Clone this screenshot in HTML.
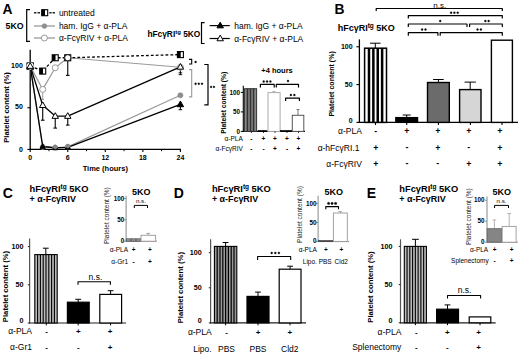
<!DOCTYPE html>
<html><head><meta charset="utf-8"><style>
html,body{margin:0;padding:0;background:#fff;}
svg{display:block;}
text{font-family:"Liberation Sans", sans-serif;}
</style></head><body>
<svg width="520" height="354" viewBox="0 0 520 354" font-family='"Liberation Sans", sans-serif'>
<rect width="520" height="354" fill="#fff"/>
<text x="2.40" y="13.70" font-size="13.8" font-weight="bold" text-anchor="start" fill="#000">A</text>
<text x="5.50" y="29.20" font-size="8.8" font-weight="bold" text-anchor="start" fill="#000">5KO</text>
<path d="M30.00,9.60 H26.70 V41.30 H30.00" fill="none" stroke="#000" stroke-width="1.2"/>
<line x1="34.00" y1="12.80" x2="36.40" y2="12.80" stroke="#000" stroke-width="1.3" stroke-linecap="butt"/>
<line x1="37.50" y1="12.80" x2="40.00" y2="12.80" stroke="#000" stroke-width="1.3" stroke-linecap="butt"/>
<line x1="49.30" y1="12.80" x2="51.60" y2="12.80" stroke="#000" stroke-width="1.3" stroke-linecap="butt"/>
<line x1="52.60" y1="12.80" x2="55.00" y2="12.80" stroke="#000" stroke-width="1.3" stroke-linecap="butt"/>
<rect x="41.70" y="9.70" width="6.00" height="6.00" fill="#fff" stroke="#000" stroke-width="1.1"/>
<rect x="41.70" y="9.70" width="3.30" height="6.00" fill="#000"/>
<text x="58.90" y="15.80" font-size="8.5" text-anchor="start" fill="#000">untreated</text>
<line x1="34.00" y1="26.00" x2="55.00" y2="26.00" stroke="#9a9a9a" stroke-width="1.3" stroke-linecap="butt"/>
<circle cx="44.40" cy="26.10" r="2.4" fill="#8e8e8e" stroke="#8e8e8e" stroke-width="0.6"/>
<text x="58.90" y="29.10" font-size="8.5" text-anchor="start" fill="#000">ham. IgG + α-PLA</text>
<line x1="34.00" y1="38.00" x2="55.00" y2="38.00" stroke="#9a9a9a" stroke-width="1.3" stroke-linecap="butt"/>
<circle cx="44.40" cy="38.00" r="3.0" fill="#fff" stroke="#9a9a9a" stroke-width="1.0"/>
<text x="58.90" y="41.10" font-size="8.5" text-anchor="start" fill="#000">α-FcγRIV + α-PLA</text>
<text x="147.4" y="36.8" font-size="8.35" font-weight="bold">hFcγRI<tspan font-size="6" dy="-2.6">tg</tspan><tspan dy="2.6"> 5KO</tspan></text>
<path d="M204.60,22.70 H201.50 V43.50 H204.60" fill="none" stroke="#000" stroke-width="1.2"/>
<line x1="209.60" y1="25.60" x2="229.80" y2="25.60" stroke="#000" stroke-width="1.2" stroke-linecap="butt"/>
<path d="M220.20,22.20 L223.44,27.87 L216.96,27.87 Z" fill="#000" stroke="#000" stroke-width="1.0" stroke-linejoin="miter"/>
<text x="234.20" y="29.00" font-size="8.5" text-anchor="start" fill="#000">ham. IgG + α-PLA</text>
<line x1="209.60" y1="38.50" x2="229.80" y2="38.50" stroke="#000" stroke-width="1.2" stroke-linecap="butt"/>
<path d="M220.20,35.10 L223.44,40.77 L216.96,40.77 Z" fill="#fff" stroke="#000" stroke-width="1.0" stroke-linejoin="miter"/>
<text x="234.20" y="41.60" font-size="8.5" text-anchor="start" fill="#000">α-FcγRIV + α-PLA</text>
<line x1="30.20" y1="49.70" x2="30.20" y2="150.00" stroke="#000" stroke-width="1.3" stroke-linecap="butt"/>
<line x1="29.60" y1="149.40" x2="181.00" y2="149.40" stroke="#000" stroke-width="1.3" stroke-linecap="butt"/>
<line x1="27.40" y1="66.10" x2="30.20" y2="66.10" stroke="#000" stroke-width="1.1" stroke-linecap="butt"/>
<text x="22.80" y="67.70" font-size="7" font-weight="bold" text-anchor="end" fill="#000">100</text>
<line x1="27.40" y1="107.75" x2="30.20" y2="107.75" stroke="#000" stroke-width="1.1" stroke-linecap="butt"/>
<text x="22.80" y="109.35" font-size="7" font-weight="bold" text-anchor="end" fill="#000">50</text>
<line x1="27.40" y1="149.40" x2="30.20" y2="149.40" stroke="#000" stroke-width="1.1" stroke-linecap="butt"/>
<text x="22.80" y="151.50" font-size="7" font-weight="bold" text-anchor="end" fill="#000">0</text>
<line x1="30.20" y1="149.40" x2="30.20" y2="152.00" stroke="#000" stroke-width="1.1" stroke-linecap="butt"/>
<text x="30.20" y="160.00" font-size="7" font-weight="bold" text-anchor="middle" fill="#000">0</text>
<line x1="67.75" y1="149.40" x2="67.75" y2="152.00" stroke="#000" stroke-width="1.1" stroke-linecap="butt"/>
<text x="67.75" y="160.00" font-size="7" font-weight="bold" text-anchor="middle" fill="#000">6</text>
<line x1="105.30" y1="149.40" x2="105.30" y2="152.00" stroke="#000" stroke-width="1.1" stroke-linecap="butt"/>
<text x="105.30" y="160.00" font-size="7" font-weight="bold" text-anchor="middle" fill="#000">12</text>
<line x1="142.85" y1="149.40" x2="142.85" y2="152.00" stroke="#000" stroke-width="1.1" stroke-linecap="butt"/>
<text x="142.85" y="160.00" font-size="7" font-weight="bold" text-anchor="middle" fill="#000">18</text>
<line x1="180.40" y1="149.40" x2="180.40" y2="152.00" stroke="#000" stroke-width="1.1" stroke-linecap="butt"/>
<text x="180.40" y="160.00" font-size="7" font-weight="bold" text-anchor="middle" fill="#000">24</text>
<line x1="48.98" y1="149.40" x2="48.98" y2="151.20" stroke="#000" stroke-width="1.0" stroke-linecap="butt"/>
<line x1="86.53" y1="149.40" x2="86.53" y2="151.20" stroke="#000" stroke-width="1.0" stroke-linecap="butt"/>
<line x1="124.08" y1="149.40" x2="124.08" y2="151.20" stroke="#000" stroke-width="1.0" stroke-linecap="butt"/>
<line x1="161.62" y1="149.40" x2="161.62" y2="151.20" stroke="#000" stroke-width="1.0" stroke-linecap="butt"/>
<text x="105.30" y="170.80" font-size="7.5" font-weight="bold" text-anchor="middle" fill="#000">Time (hours)</text>
<text x="8.70" y="107.50" font-size="7.6" font-weight="bold" text-anchor="middle" fill="#000" transform="rotate(-90 8.7 107.5)">Platelet content (%)</text>
<line x1="42.72" y1="89.42" x2="42.72" y2="99.42" stroke="#9a9a9a" stroke-width="1.0" stroke-linecap="butt"/>
<line x1="42.72" y1="89.42" x2="42.72" y2="89.42" stroke="#9a9a9a" stroke-width="1.0" stroke-linecap="butt"/>
<line x1="41.42" y1="99.42" x2="44.02" y2="99.42" stroke="#9a9a9a" stroke-width="1.0" stroke-linecap="butt"/>
<line x1="67.75" y1="57.77" x2="67.75" y2="75.40" stroke="#000" stroke-width="1.1" stroke-linecap="butt"/>
<line x1="65.95" y1="75.40" x2="69.55" y2="75.40" stroke="#000" stroke-width="1.1" stroke-linecap="butt"/>
<line x1="42.72" y1="105.25" x2="42.72" y2="120.20" stroke="#000" stroke-width="1.1" stroke-linecap="butt"/>
<line x1="40.92" y1="120.20" x2="44.52" y2="120.20" stroke="#000" stroke-width="1.1" stroke-linecap="butt"/>
<line x1="55.23" y1="116.08" x2="55.23" y2="128.10" stroke="#000" stroke-width="1.1" stroke-linecap="butt"/>
<line x1="53.43" y1="128.10" x2="57.03" y2="128.10" stroke="#000" stroke-width="1.1" stroke-linecap="butt"/>
<line x1="67.75" y1="116.08" x2="67.75" y2="125.10" stroke="#000" stroke-width="1.1" stroke-linecap="butt"/>
<line x1="65.95" y1="125.10" x2="69.55" y2="125.10" stroke="#000" stroke-width="1.1" stroke-linecap="butt"/>
<line x1="180.40" y1="66.93" x2="180.40" y2="74.70" stroke="#000" stroke-width="1.0" stroke-linecap="butt"/>
<line x1="178.60" y1="72.80" x2="182.20" y2="72.80" stroke="#000" stroke-width="0.9" stroke-linecap="butt"/>
<line x1="178.60" y1="74.70" x2="182.20" y2="74.70" stroke="#000" stroke-width="0.9" stroke-linecap="butt"/>
<line x1="180.40" y1="104.42" x2="180.40" y2="109.70" stroke="#000" stroke-width="1.0" stroke-linecap="butt"/>
<line x1="178.60" y1="109.70" x2="182.20" y2="109.70" stroke="#000" stroke-width="1.0" stroke-linecap="butt"/>
<polyline points="30.20,66.10 42.72,146.90 55.23,147.73 67.75,146.90 180.40,95.25" fill="none" stroke="#9a9a9a" stroke-width="1.2" stroke-linejoin="round"/>
<polyline points="30.20,66.10 42.72,89.42 55.23,67.77 67.75,57.77 180.40,67.27" fill="none" stroke="#9a9a9a" stroke-width="1.2" stroke-linejoin="round"/>
<polyline points="30.20,66.10 42.72,146.48 55.23,147.73 67.75,147.32 180.40,104.42" fill="none" stroke="#000" stroke-width="1.3" stroke-linejoin="round"/>
<polyline points="30.20,66.10 42.72,105.25 55.23,116.08 67.75,116.08 180.40,66.93" fill="none" stroke="#000" stroke-width="1.3" stroke-linejoin="round"/>
<polyline points="30.20,66.10 42.72,71.10 55.23,57.77 67.75,57.77 180.40,54.60" fill="none" stroke="#000" stroke-width="1.3" stroke-dasharray="2.8,2.1" stroke-linejoin="round"/>
<circle cx="30.20" cy="66.10" r="2.6" fill="#8e8e8e" stroke="#8e8e8e" stroke-width="0.6"/>
<circle cx="42.72" cy="146.90" r="2.6" fill="#8e8e8e" stroke="#8e8e8e" stroke-width="0.6"/>
<circle cx="55.23" cy="147.73" r="2.6" fill="#8e8e8e" stroke="#8e8e8e" stroke-width="0.6"/>
<circle cx="67.75" cy="146.90" r="2.6" fill="#8e8e8e" stroke="#8e8e8e" stroke-width="0.6"/>
<circle cx="180.40" cy="95.25" r="2.6" fill="#8e8e8e" stroke="#8e8e8e" stroke-width="0.6"/>
<circle cx="30.20" cy="66.10" r="3.0" fill="#fff" stroke="#9a9a9a" stroke-width="1.0"/>
<circle cx="42.72" cy="89.42" r="3.0" fill="#fff" stroke="#9a9a9a" stroke-width="1.0"/>
<circle cx="55.23" cy="67.77" r="3.0" fill="#fff" stroke="#9a9a9a" stroke-width="1.0"/>
<circle cx="67.75" cy="57.77" r="3.0" fill="#fff" stroke="#9a9a9a" stroke-width="1.0"/>
<circle cx="180.40" cy="67.27" r="3.0" fill="#fff" stroke="#9a9a9a" stroke-width="1.0"/>
<path d="M30.20,62.70 L33.44,68.37 L26.96,68.37 Z" fill="#000" stroke="#000" stroke-width="1.0" stroke-linejoin="miter"/>
<path d="M42.72,143.65 L45.42,148.37 L40.02,148.37 Z" fill="#000" stroke="#000" stroke-width="1.0" stroke-linejoin="miter"/>
<path d="M55.23,144.90 L57.93,149.62 L52.53,149.62 Z" fill="#000" stroke="#000" stroke-width="1.0" stroke-linejoin="miter"/>
<path d="M67.75,144.48 L70.45,149.21 L65.05,149.21 Z" fill="#000" stroke="#000" stroke-width="1.0" stroke-linejoin="miter"/>
<path d="M180.40,101.02 L183.64,106.69 L177.16,106.69 Z" fill="#000" stroke="#000" stroke-width="1.0" stroke-linejoin="miter"/>
<circle cx="55.23" cy="146.93" r="2.0" fill="#8a8a8a" stroke="#8a8a8a" stroke-width="0.4"/>
<circle cx="67.75" cy="146.10" r="2.0" fill="#8a8a8a" stroke="#8a8a8a" stroke-width="0.4"/>
<path d="M30.20,62.70 L33.44,68.37 L26.96,68.37 Z" fill="#fff" stroke="#000" stroke-width="1.0" stroke-linejoin="miter"/>
<path d="M42.72,101.85 L45.96,107.52 L39.48,107.52 Z" fill="#fff" stroke="#000" stroke-width="1.0" stroke-linejoin="miter"/>
<path d="M55.23,112.68 L58.47,118.35 L51.99,118.35 Z" fill="#fff" stroke="#000" stroke-width="1.0" stroke-linejoin="miter"/>
<path d="M67.75,112.68 L70.99,118.35 L64.51,118.35 Z" fill="#fff" stroke="#000" stroke-width="1.0" stroke-linejoin="miter"/>
<path d="M180.40,63.53 L183.64,69.20 L177.16,69.20 Z" fill="#fff" stroke="#000" stroke-width="1.0" stroke-linejoin="miter"/>
<rect x="27.20" y="63.10" width="6.00" height="6.00" fill="#fff" stroke="#000" stroke-width="1.1"/>
<rect x="27.20" y="63.10" width="3.30" height="6.00" fill="#000"/>
<rect x="39.72" y="68.10" width="6.00" height="6.00" fill="#fff" stroke="#000" stroke-width="1.1"/>
<rect x="39.72" y="68.10" width="3.30" height="6.00" fill="#000"/>
<rect x="52.23" y="54.77" width="6.00" height="6.00" fill="#fff" stroke="#000" stroke-width="1.1"/>
<rect x="52.23" y="54.77" width="3.30" height="6.00" fill="#000"/>
<rect x="64.75" y="54.77" width="6.00" height="6.00" fill="#fff" stroke="#000" stroke-width="1.1"/>
<rect x="64.75" y="54.77" width="3.30" height="6.00" fill="#000"/>
<rect x="177.40" y="51.60" width="6.00" height="6.00" fill="#fff" stroke="#000" stroke-width="1.1"/>
<rect x="177.40" y="51.60" width="3.30" height="6.00" fill="#000"/>
<circle cx="67.75" cy="57.77" r="3.1" fill="#fff" stroke="#222" stroke-width="1.0"/>
<rect x="27.20" y="63.10" width="6.00" height="6.00" fill="#fff" stroke="#000" stroke-width="1.1"/>
<rect x="27.20" y="63.10" width="3.30" height="6.00" fill="#000"/>
<circle cx="30.20" cy="66.10" r="3.3" fill="#fff" stroke="#fff" stroke-width="0.5"/>
<path d="M30.20,62.70 L33.44,68.37 L26.96,68.37 Z" fill="#fff" stroke="#000" stroke-width="1.0" stroke-linejoin="miter"/>
<path d="M189.00,59.40 H191.70 V64.00 H189.00" fill="none" stroke="#000" stroke-width="1.1"/>
<circle cx="195.60" cy="62.00" r="0.95" fill="#000" stroke="#000" stroke-width="0.3"/>
<path d="M189.00,69.60 H191.70 V96.90 H189.00" fill="none" stroke="#9a9a9a" stroke-width="1.1"/>
<circle cx="195.60" cy="83.80" r="0.95" fill="#000" stroke="#000" stroke-width="0.3"/>
<circle cx="198.80" cy="83.80" r="0.95" fill="#000" stroke="#000" stroke-width="0.3"/>
<circle cx="202.00" cy="83.80" r="0.95" fill="#000" stroke="#000" stroke-width="0.3"/>
<path d="M204.30,64.50 H208.00 V104.80 H204.30" fill="none" stroke="#000" stroke-width="1.2"/>
<circle cx="211.05" cy="86.90" r="0.95" fill="#000" stroke="#000" stroke-width="0.3"/>
<circle cx="213.95" cy="86.90" r="0.95" fill="#000" stroke="#000" stroke-width="0.3"/>
<text x="277.00" y="73.30" font-size="7.5" font-weight="bold" text-anchor="middle" fill="#000">+4 hours</text>
<line x1="243.30" y1="85.80" x2="243.30" y2="131.90" stroke="#000" stroke-width="1.1" stroke-linecap="butt"/>
<line x1="242.80" y1="131.40" x2="305.00" y2="131.40" stroke="#000" stroke-width="1.1" stroke-linecap="butt"/>
<line x1="240.80" y1="92.40" x2="243.30" y2="92.40" stroke="#000" stroke-width="1.0" stroke-linecap="butt"/>
<text x="240.00" y="94.60" font-size="6.3" font-weight="bold" text-anchor="end" fill="#000">100</text>
<line x1="240.80" y1="111.90" x2="243.30" y2="111.90" stroke="#000" stroke-width="1.0" stroke-linecap="butt"/>
<text x="240.00" y="114.10" font-size="6.3" font-weight="bold" text-anchor="end" fill="#000">50</text>
<line x1="240.80" y1="131.40" x2="243.30" y2="131.40" stroke="#000" stroke-width="1.0" stroke-linecap="butt"/>
<text x="240.00" y="133.60" font-size="6.3" font-weight="bold" text-anchor="end" fill="#000">0</text>
<text x="226.20" y="102.80" font-size="6.7" font-weight="bold" text-anchor="middle" fill="#000" transform="rotate(-90 226.2 102.8)">Platelet content (%)</text>
<rect x="244.40" y="88.70" width="12.20" height="42.70" fill="#888" stroke="#333" stroke-width="1.0"/>
<line x1="247.45" y1="88.70" x2="247.45" y2="131.40" stroke="#333" stroke-width="1.6" stroke-linecap="butt"/>
<line x1="250.50" y1="88.70" x2="250.50" y2="131.40" stroke="#333" stroke-width="1.6" stroke-linecap="butt"/>
<line x1="253.55" y1="88.70" x2="253.55" y2="131.40" stroke="#333" stroke-width="1.6" stroke-linecap="butt"/>
<rect x="258.20" y="130.60" width="8.40" height="0.80" fill="#000" stroke="#000" stroke-width="0.6"/>
<rect x="268.00" y="92.60" width="12.10" height="38.80" fill="#fff" stroke="#aaa" stroke-width="1.0"/>
<line x1="274.00" y1="92.60" x2="274.00" y2="91.60" stroke="#aaa" stroke-width="1.0" stroke-linecap="butt"/>
<line x1="272.50" y1="91.60" x2="275.50" y2="91.60" stroke="#aaa" stroke-width="1.0" stroke-linecap="butt"/>
<rect x="280.50" y="130.60" width="11.20" height="0.80" fill="#000" stroke="#000" stroke-width="0.6"/>
<rect x="292.30" y="115.30" width="11.50" height="16.10" fill="#fff" stroke="#555" stroke-width="1.0"/>
<line x1="298.00" y1="109.50" x2="298.00" y2="115.30" stroke="#777" stroke-width="1.0" stroke-linecap="butt"/>
<line x1="296.50" y1="109.50" x2="299.50" y2="109.50" stroke="#777" stroke-width="1.0" stroke-linecap="butt"/>
<path d="M260.40,87.40 V84.40 H274.20 V87.40" fill="none" stroke="#000" stroke-width="1.2" stroke-linejoin="round"/>
<path d="M276.30,87.40 V84.40 H298.50 V87.40" fill="none" stroke="#000" stroke-width="1.2" stroke-linejoin="round"/>
<path d="M285.60,101.10 V98.10 H299.40 V101.10" fill="none" stroke="#000" stroke-width="1.2" stroke-linejoin="round"/>
<circle cx="263.70" cy="81.50" r="1.0" fill="#000" stroke="#000" stroke-width="0.3"/>
<circle cx="267.05" cy="81.50" r="1.0" fill="#000" stroke="#000" stroke-width="0.3"/>
<circle cx="270.40" cy="81.50" r="1.0" fill="#000" stroke="#000" stroke-width="0.3"/>
<circle cx="288.00" cy="81.00" r="1.0" fill="#000" stroke="#000" stroke-width="0.3"/>
<circle cx="290.85" cy="95.00" r="1.0" fill="#000" stroke="#000" stroke-width="0.3"/>
<circle cx="294.35" cy="95.00" r="1.0" fill="#000" stroke="#000" stroke-width="0.3"/>
<text x="242.80" y="140.80" font-size="6.5" text-anchor="end" fill="#000">α-PLA</text>
<text x="242.80" y="151.30" font-size="6.5" text-anchor="end" fill="#000">α-FcγRIV</text>
<line x1="251.40" y1="131.40" x2="251.40" y2="133.00" stroke="#000" stroke-width="0.8" stroke-linecap="butt"/>
<line x1="263.50" y1="131.40" x2="263.50" y2="133.00" stroke="#000" stroke-width="0.8" stroke-linecap="butt"/>
<line x1="275.00" y1="131.40" x2="275.00" y2="133.00" stroke="#000" stroke-width="0.8" stroke-linecap="butt"/>
<line x1="287.00" y1="131.40" x2="287.00" y2="133.00" stroke="#000" stroke-width="0.8" stroke-linecap="butt"/>
<line x1="298.50" y1="131.40" x2="298.50" y2="133.00" stroke="#000" stroke-width="0.8" stroke-linecap="butt"/>
<text x="251.40" y="140.80" font-size="6.5" font-weight="bold" text-anchor="middle" fill="#000">-</text>
<text x="263.50" y="140.80" font-size="6.5" font-weight="bold" text-anchor="middle" fill="#000">+</text>
<text x="275.00" y="140.80" font-size="6.5" font-weight="bold" text-anchor="middle" fill="#000">+</text>
<text x="287.00" y="140.80" font-size="6.5" font-weight="bold" text-anchor="middle" fill="#000">+</text>
<text x="298.50" y="140.80" font-size="6.5" font-weight="bold" text-anchor="middle" fill="#000">+</text>
<text x="251.40" y="151.30" font-size="6.5" font-weight="bold" text-anchor="middle" fill="#000">-</text>
<text x="263.50" y="151.30" font-size="6.5" font-weight="bold" text-anchor="middle" fill="#000">-</text>
<text x="275.00" y="151.30" font-size="6.5" font-weight="bold" text-anchor="middle" fill="#000">+</text>
<text x="287.00" y="151.30" font-size="6.5" font-weight="bold" text-anchor="middle" fill="#000">-</text>
<text x="298.50" y="151.30" font-size="6.5" font-weight="bold" text-anchor="middle" fill="#000">+</text>
<text x="334.40" y="13.70" font-size="13.8" font-weight="bold" text-anchor="start" fill="#000">B</text>
<text x="337.7" y="30.8" font-size="9" font-weight="bold">hFcγRI<tspan font-size="6.5" dy="-2.9">tg</tspan><tspan dy="2.9"> 5KO</tspan></text>
<line x1="359.40" y1="39.40" x2="359.40" y2="123.00" stroke="#000" stroke-width="1.3" stroke-linecap="butt"/>
<line x1="358.80" y1="122.40" x2="518.00" y2="122.40" stroke="#000" stroke-width="1.3" stroke-linecap="butt"/>
<line x1="356.40" y1="46.80" x2="359.40" y2="46.80" stroke="#000" stroke-width="1.1" stroke-linecap="butt"/>
<text x="352.60" y="48.90" font-size="7.0" font-weight="bold" text-anchor="end" fill="#000">100</text>
<line x1="356.40" y1="84.60" x2="359.40" y2="84.60" stroke="#000" stroke-width="1.1" stroke-linecap="butt"/>
<text x="352.60" y="86.70" font-size="7.0" font-weight="bold" text-anchor="end" fill="#000">50</text>
<line x1="356.40" y1="122.40" x2="359.40" y2="122.40" stroke="#000" stroke-width="1.1" stroke-linecap="butt"/>
<text x="352.60" y="123.30" font-size="7.0" font-weight="bold" text-anchor="end" fill="#000">0</text>
<text x="334.00" y="83.90" font-size="7.05" font-weight="bold" text-anchor="middle" fill="#000" transform="rotate(-90 334.0 83.9)">Platelet content (%)</text>
<line x1="375.50" y1="122.40" x2="375.50" y2="125.00" stroke="#000" stroke-width="1.1" stroke-linecap="butt"/>
<line x1="406.70" y1="122.40" x2="406.70" y2="125.00" stroke="#000" stroke-width="1.1" stroke-linecap="butt"/>
<line x1="438.40" y1="122.40" x2="438.40" y2="125.00" stroke="#000" stroke-width="1.1" stroke-linecap="butt"/>
<line x1="470.40" y1="122.40" x2="470.40" y2="125.00" stroke="#000" stroke-width="1.1" stroke-linecap="butt"/>
<line x1="502.00" y1="122.40" x2="502.00" y2="125.00" stroke="#000" stroke-width="1.1" stroke-linecap="butt"/>
<line x1="375.30" y1="43.20" x2="375.30" y2="48.20" stroke="#000" stroke-width="1.0" stroke-linecap="butt"/>
<line x1="370.00" y1="43.20" x2="380.60" y2="43.20" stroke="#000" stroke-width="1.0" stroke-linecap="butt"/>
<rect x="364.60" y="48.20" width="21.90" height="74.20" fill="#fff" stroke="#000" stroke-width="1.5"/>
<line x1="368.98" y1="48.20" x2="368.98" y2="122.40" stroke="#000" stroke-width="2.5" stroke-linecap="butt"/>
<line x1="373.36" y1="48.20" x2="373.36" y2="122.40" stroke="#000" stroke-width="2.5" stroke-linecap="butt"/>
<line x1="377.74" y1="48.20" x2="377.74" y2="122.40" stroke="#000" stroke-width="2.5" stroke-linecap="butt"/>
<line x1="382.12" y1="48.20" x2="382.12" y2="122.40" stroke="#000" stroke-width="2.5" stroke-linecap="butt"/>
<line x1="406.70" y1="115.00" x2="406.70" y2="117.60" stroke="#000" stroke-width="1.0" stroke-linecap="butt"/>
<line x1="402.70" y1="115.00" x2="410.70" y2="115.00" stroke="#000" stroke-width="1.0" stroke-linecap="butt"/>
<rect x="395.80" y="117.60" width="21.80" height="4.80" fill="#000" stroke="#000" stroke-width="1.3"/>
<line x1="438.40" y1="79.50" x2="438.40" y2="82.50" stroke="#000" stroke-width="1.0" stroke-linecap="butt"/>
<line x1="433.10" y1="79.50" x2="443.70" y2="79.50" stroke="#000" stroke-width="1.0" stroke-linecap="butt"/>
<rect x="427.50" y="82.50" width="21.80" height="39.90" fill="#6b6b6b" stroke="#000" stroke-width="1.4"/>
<line x1="470.20" y1="82.10" x2="470.20" y2="89.60" stroke="#000" stroke-width="1.0" stroke-linecap="butt"/>
<line x1="464.55" y1="82.10" x2="475.85" y2="82.10" stroke="#000" stroke-width="1.0" stroke-linecap="butt"/>
<rect x="459.60" y="89.60" width="21.40" height="32.80" fill="#d6d6d6" stroke="#000" stroke-width="1.4"/>
<rect x="491.40" y="40.20" width="21.00" height="82.20" fill="#fff" stroke="#000" stroke-width="1.4"/>
<path d="M376.20,10.90 V8.50 H502.30 V10.90" fill="none" stroke="#000" stroke-width="1.2" stroke-linejoin="round"/>
<text x="439.80" y="7.60" font-size="8" text-anchor="middle" fill="#000">n.s.</text>
<path d="M408.30,18.60 V15.60 H502.30 V18.60" fill="none" stroke="#000" stroke-width="1.2" stroke-linejoin="round"/>
<circle cx="451.10" cy="12.70" r="1.0" fill="#000" stroke="#000" stroke-width="0.3"/>
<circle cx="454.40" cy="12.70" r="1.0" fill="#000" stroke="#000" stroke-width="0.3"/>
<circle cx="457.70" cy="12.70" r="1.0" fill="#000" stroke="#000" stroke-width="0.3"/>
<path d="M408.30,27.00 V24.00 H467.00 V27.00" fill="none" stroke="#000" stroke-width="1.2" stroke-linejoin="round"/>
<path d="M469.60,27.00 V24.00 H502.30 V27.00" fill="none" stroke="#000" stroke-width="1.2" stroke-linejoin="round"/>
<circle cx="440.20" cy="21.10" r="1.0" fill="#000" stroke="#000" stroke-width="0.3"/>
<circle cx="485.35" cy="21.10" r="1.0" fill="#000" stroke="#000" stroke-width="0.3"/>
<circle cx="488.65" cy="21.10" r="1.0" fill="#000" stroke="#000" stroke-width="0.3"/>
<path d="M408.30,35.70 V32.70 H437.90 V35.70" fill="none" stroke="#000" stroke-width="1.2" stroke-linejoin="round"/>
<path d="M440.20,35.70 V32.70 H502.30 V35.70" fill="none" stroke="#000" stroke-width="1.2" stroke-linejoin="round"/>
<circle cx="422.10" cy="29.60" r="1.0" fill="#000" stroke="#000" stroke-width="0.3"/>
<circle cx="425.50" cy="29.60" r="1.0" fill="#000" stroke="#000" stroke-width="0.3"/>
<circle cx="477.50" cy="29.60" r="1.0" fill="#000" stroke="#000" stroke-width="0.3"/>
<circle cx="480.90" cy="29.60" r="1.0" fill="#000" stroke="#000" stroke-width="0.3"/>
<text x="361.90" y="134.40" font-size="8.5" text-anchor="end" fill="#000">α-PLA</text>
<text x="359.40" y="150.90" font-size="8.5" text-anchor="end" fill="#000">α-hFcγRI.1</text>
<text x="361.90" y="167.00" font-size="8.5" text-anchor="end" fill="#000">α-FcγRIV</text>
<text x="375.80" y="133.80" font-size="8.8" font-weight="bold" text-anchor="middle" fill="#000">-</text>
<text x="406.90" y="134.40" font-size="8.8" font-weight="bold" text-anchor="middle" fill="#000">+</text>
<text x="437.80" y="134.40" font-size="8.8" font-weight="bold" text-anchor="middle" fill="#000">+</text>
<text x="468.80" y="134.40" font-size="8.8" font-weight="bold" text-anchor="middle" fill="#000">+</text>
<text x="499.90" y="134.40" font-size="8.8" font-weight="bold" text-anchor="middle" fill="#000">+</text>
<text x="375.80" y="150.90" font-size="8.8" font-weight="bold" text-anchor="middle" fill="#000">+</text>
<text x="406.90" y="150.30" font-size="8.8" font-weight="bold" text-anchor="middle" fill="#000">-</text>
<text x="437.80" y="150.90" font-size="8.8" font-weight="bold" text-anchor="middle" fill="#000">+</text>
<text x="468.80" y="150.30" font-size="8.8" font-weight="bold" text-anchor="middle" fill="#000">-</text>
<text x="499.90" y="150.90" font-size="8.8" font-weight="bold" text-anchor="middle" fill="#000">+</text>
<text x="375.80" y="167.00" font-size="8.8" font-weight="bold" text-anchor="middle" fill="#000">+</text>
<text x="406.90" y="166.40" font-size="8.8" font-weight="bold" text-anchor="middle" fill="#000">-</text>
<text x="437.80" y="166.40" font-size="8.8" font-weight="bold" text-anchor="middle" fill="#000">-</text>
<text x="468.80" y="167.00" font-size="8.8" font-weight="bold" text-anchor="middle" fill="#000">+</text>
<text x="499.90" y="167.00" font-size="8.8" font-weight="bold" text-anchor="middle" fill="#000">+</text>
<text x="2.80" y="198.00" font-size="14" font-weight="bold" text-anchor="start" fill="#000">C</text>
<text x="29.6" y="191.5" font-size="9.3" font-weight="bold">hFcγRI<tspan font-size="6.5" dy="-2.9">tg</tspan><tspan dy="2.9"> 5KO</tspan></text>
<text x="29.60" y="202.00" font-size="8.928" font-weight="bold" text-anchor="start" fill="#000">+ α-FcγRIV</text>
<line x1="29.60" y1="238.60" x2="29.60" y2="323.50" stroke="#555" stroke-width="1.2" stroke-linecap="butt"/>
<line x1="29.10" y1="323.00" x2="126.00" y2="323.00" stroke="#222" stroke-width="1.2" stroke-linecap="butt"/>
<line x1="27.80" y1="246.60" x2="29.60" y2="246.60" stroke="#222" stroke-width="1.0" stroke-linecap="butt"/>
<text x="23.50" y="248.90" font-size="7.2" font-weight="bold" text-anchor="end" fill="#000">100</text>
<line x1="27.80" y1="284.80" x2="29.60" y2="284.80" stroke="#222" stroke-width="1.0" stroke-linecap="butt"/>
<text x="23.50" y="287.10" font-size="7.2" font-weight="bold" text-anchor="end" fill="#000">50</text>
<line x1="27.80" y1="323.00" x2="29.60" y2="323.00" stroke="#222" stroke-width="1.0" stroke-linecap="butt"/>
<text x="23.50" y="322.80" font-size="7.2" font-weight="bold" text-anchor="end" fill="#000">0</text>
<text x="8.30" y="286.50" font-size="7.7" font-weight="bold" text-anchor="middle" fill="#000" transform="rotate(-90 8.3 286.5)">Platelet content (%)</text>
<line x1="46.30" y1="323.00" x2="46.30" y2="325.40" stroke="#000" stroke-width="1.0" stroke-linecap="butt"/>
<line x1="78.20" y1="323.00" x2="78.20" y2="325.40" stroke="#000" stroke-width="1.0" stroke-linecap="butt"/>
<line x1="110.60" y1="323.00" x2="110.60" y2="325.40" stroke="#000" stroke-width="1.0" stroke-linecap="butt"/>
<line x1="45.80" y1="248.20" x2="45.80" y2="254.60" stroke="#000" stroke-width="1.0" stroke-linecap="butt"/>
<line x1="42.90" y1="248.20" x2="48.70" y2="248.20" stroke="#000" stroke-width="1.0" stroke-linecap="butt"/>
<rect x="34.80" y="254.60" width="22.40" height="68.40" fill="#bbb" stroke="#000" stroke-width="1.1"/>
<line x1="37.60" y1="254.60" x2="37.60" y2="323.00" stroke="#000" stroke-width="1.1" stroke-linecap="butt"/>
<line x1="40.40" y1="254.60" x2="40.40" y2="323.00" stroke="#000" stroke-width="1.1" stroke-linecap="butt"/>
<line x1="43.20" y1="254.60" x2="43.20" y2="323.00" stroke="#000" stroke-width="1.1" stroke-linecap="butt"/>
<line x1="46.00" y1="254.60" x2="46.00" y2="323.00" stroke="#000" stroke-width="1.1" stroke-linecap="butt"/>
<line x1="48.80" y1="254.60" x2="48.80" y2="323.00" stroke="#000" stroke-width="1.1" stroke-linecap="butt"/>
<line x1="51.60" y1="254.60" x2="51.60" y2="323.00" stroke="#000" stroke-width="1.1" stroke-linecap="butt"/>
<line x1="54.40" y1="254.60" x2="54.40" y2="323.00" stroke="#000" stroke-width="1.1" stroke-linecap="butt"/>
<line x1="78.20" y1="299.30" x2="78.20" y2="302.20" stroke="#000" stroke-width="1.0" stroke-linecap="butt"/>
<line x1="75.30" y1="299.30" x2="81.10" y2="299.30" stroke="#000" stroke-width="1.0" stroke-linecap="butt"/>
<rect x="67.40" y="302.20" width="21.80" height="20.80" fill="#000" stroke="#000" stroke-width="1.2"/>
<line x1="110.60" y1="290.70" x2="110.60" y2="294.40" stroke="#000" stroke-width="1.0" stroke-linecap="butt"/>
<line x1="107.70" y1="290.70" x2="113.50" y2="290.70" stroke="#000" stroke-width="1.0" stroke-linecap="butt"/>
<rect x="99.80" y="294.40" width="21.80" height="28.60" fill="#fff" stroke="#000" stroke-width="1.2"/>
<path d="M78.00,284.80 V281.80 H110.40 V284.80" fill="none" stroke="#000" stroke-width="1.1" stroke-linejoin="round"/>
<text x="95.40" y="279.60" font-size="8.5" text-anchor="middle" fill="#000">n.s.</text>
<text x="32.00" y="334.30" font-size="8.5" text-anchor="end" fill="#000">α-PLA</text>
<text x="32.00" y="350.00" font-size="8.5" text-anchor="end" fill="#000">α-Gr1</text>
<text x="46.50" y="334.30" font-size="8" font-weight="bold" text-anchor="middle" fill="#000">-</text>
<text x="46.50" y="350.00" font-size="8" font-weight="bold" text-anchor="middle" fill="#000">-</text>
<text x="78.30" y="334.30" font-size="8" font-weight="bold" text-anchor="middle" fill="#000">+</text>
<text x="78.30" y="350.00" font-size="8" font-weight="bold" text-anchor="middle" fill="#000">-</text>
<text x="110.00" y="334.30" font-size="8" font-weight="bold" text-anchor="middle" fill="#000">+</text>
<text x="110.00" y="350.00" font-size="8" font-weight="bold" text-anchor="middle" fill="#000">+</text>
<text x="173.80" y="198.00" font-size="14" font-weight="bold" text-anchor="start" fill="#000">D</text>
<text x="211.9" y="191.5" font-size="9.3" font-weight="bold">hFcγRI<tspan font-size="6.5" dy="-2.9">tg</tspan><tspan dy="2.9"> 5KO</tspan></text>
<text x="211.90" y="202.00" font-size="8.928" font-weight="bold" text-anchor="start" fill="#000">+ α-FcγRIV</text>
<line x1="210.60" y1="239.30" x2="210.60" y2="323.40" stroke="#555" stroke-width="1.2" stroke-linecap="butt"/>
<line x1="210.10" y1="322.90" x2="306.00" y2="322.90" stroke="#222" stroke-width="1.2" stroke-linecap="butt"/>
<line x1="208.80" y1="252.70" x2="210.60" y2="252.70" stroke="#222" stroke-width="1.0" stroke-linecap="butt"/>
<text x="201.80" y="255.00" font-size="7.2" font-weight="bold" text-anchor="end" fill="#000">100</text>
<line x1="208.80" y1="287.80" x2="210.60" y2="287.80" stroke="#222" stroke-width="1.0" stroke-linecap="butt"/>
<text x="201.80" y="290.10" font-size="7.2" font-weight="bold" text-anchor="end" fill="#000">50</text>
<line x1="208.80" y1="322.90" x2="210.60" y2="322.90" stroke="#222" stroke-width="1.0" stroke-linecap="butt"/>
<text x="201.80" y="322.70" font-size="7.2" font-weight="bold" text-anchor="end" fill="#000">0</text>
<text x="183.00" y="287.70" font-size="7.7" font-weight="bold" text-anchor="middle" fill="#000" transform="rotate(-90 183.0 287.7)">Platelet content (%)</text>
<line x1="225.60" y1="322.90" x2="225.60" y2="325.30" stroke="#000" stroke-width="1.0" stroke-linecap="butt"/>
<line x1="258.00" y1="322.90" x2="258.00" y2="325.30" stroke="#000" stroke-width="1.0" stroke-linecap="butt"/>
<line x1="290.00" y1="322.90" x2="290.00" y2="325.30" stroke="#000" stroke-width="1.0" stroke-linecap="butt"/>
<line x1="225.60" y1="242.50" x2="225.60" y2="246.40" stroke="#000" stroke-width="1.0" stroke-linecap="butt"/>
<line x1="222.70" y1="242.50" x2="228.50" y2="242.50" stroke="#000" stroke-width="1.0" stroke-linecap="butt"/>
<rect x="214.40" y="246.40" width="22.40" height="76.50" fill="#999" stroke="#000" stroke-width="1.1"/>
<line x1="217.20" y1="246.40" x2="217.20" y2="322.90" stroke="#000" stroke-width="1.2" stroke-linecap="butt"/>
<line x1="220.00" y1="246.40" x2="220.00" y2="322.90" stroke="#000" stroke-width="1.2" stroke-linecap="butt"/>
<line x1="222.80" y1="246.40" x2="222.80" y2="322.90" stroke="#000" stroke-width="1.2" stroke-linecap="butt"/>
<line x1="225.60" y1="246.40" x2="225.60" y2="322.90" stroke="#000" stroke-width="1.2" stroke-linecap="butt"/>
<line x1="228.40" y1="246.40" x2="228.40" y2="322.90" stroke="#000" stroke-width="1.2" stroke-linecap="butt"/>
<line x1="231.20" y1="246.40" x2="231.20" y2="322.90" stroke="#000" stroke-width="1.2" stroke-linecap="butt"/>
<line x1="234.00" y1="246.40" x2="234.00" y2="322.90" stroke="#000" stroke-width="1.2" stroke-linecap="butt"/>
<line x1="258.00" y1="292.10" x2="258.00" y2="296.40" stroke="#000" stroke-width="1.0" stroke-linecap="butt"/>
<line x1="255.10" y1="292.10" x2="260.90" y2="292.10" stroke="#000" stroke-width="1.0" stroke-linecap="butt"/>
<rect x="247.00" y="296.40" width="22.00" height="26.50" fill="#000" stroke="#000" stroke-width="1.2"/>
<line x1="290.10" y1="266.20" x2="290.10" y2="269.20" stroke="#000" stroke-width="1.0" stroke-linecap="butt"/>
<line x1="287.20" y1="266.20" x2="293.00" y2="266.20" stroke="#000" stroke-width="1.0" stroke-linecap="butt"/>
<rect x="279.20" y="269.20" width="21.80" height="53.70" fill="#fff" stroke="#000" stroke-width="1.2"/>
<path d="M257.60,259.90 V256.50 H290.70 V259.90" fill="none" stroke="#000" stroke-width="1.1" stroke-linejoin="round"/>
<circle cx="271.70" cy="252.90" r="1.0" fill="#000" stroke="#000" stroke-width="0.3"/>
<circle cx="275.30" cy="252.90" r="1.0" fill="#000" stroke="#000" stroke-width="0.3"/>
<circle cx="278.90" cy="252.90" r="1.0" fill="#000" stroke="#000" stroke-width="0.3"/>
<text x="211.70" y="335.30" font-size="8.5" text-anchor="end" fill="#000">α-PLA</text>
<text x="211.70" y="352.00" font-size="8.5" text-anchor="end" fill="#000">Lipo.</text>
<text x="226.50" y="335.30" font-size="8" font-weight="bold" text-anchor="middle" fill="#000">-</text>
<text x="226.50" y="352.00" font-size="8.5" text-anchor="middle" fill="#000">PBS</text>
<text x="258.00" y="335.30" font-size="8" font-weight="bold" text-anchor="middle" fill="#000">+</text>
<text x="258.00" y="352.00" font-size="8.5" text-anchor="middle" fill="#000">PBS</text>
<text x="289.80" y="335.30" font-size="8" font-weight="bold" text-anchor="middle" fill="#000">+</text>
<text x="289.80" y="352.00" font-size="8.5" text-anchor="middle" fill="#000">Cld2</text>
<text x="366.80" y="198.00" font-size="14" font-weight="bold" text-anchor="start" fill="#000">E</text>
<text x="399.3" y="191.5" font-size="9.3" font-weight="bold">hFcγRI<tspan font-size="6.5" dy="-2.9">tg</tspan><tspan dy="2.9"> 5KO</tspan></text>
<text x="399.30" y="202.00" font-size="8.928" font-weight="bold" text-anchor="start" fill="#000">+ α-FcγRIV</text>
<line x1="400.50" y1="239.30" x2="400.50" y2="323.30" stroke="#555" stroke-width="1.2" stroke-linecap="butt"/>
<line x1="400.00" y1="322.80" x2="495.70" y2="322.80" stroke="#222" stroke-width="1.2" stroke-linecap="butt"/>
<line x1="398.70" y1="246.40" x2="400.50" y2="246.40" stroke="#222" stroke-width="1.0" stroke-linecap="butt"/>
<text x="392.60" y="248.70" font-size="7.2" font-weight="bold" text-anchor="end" fill="#000">100</text>
<line x1="398.70" y1="284.60" x2="400.50" y2="284.60" stroke="#222" stroke-width="1.0" stroke-linecap="butt"/>
<text x="392.60" y="286.90" font-size="7.2" font-weight="bold" text-anchor="end" fill="#000">50</text>
<line x1="398.70" y1="322.80" x2="400.50" y2="322.80" stroke="#222" stroke-width="1.0" stroke-linecap="butt"/>
<text x="392.60" y="322.60" font-size="7.2" font-weight="bold" text-anchor="end" fill="#000">0</text>
<text x="373.00" y="287.00" font-size="7.7" font-weight="bold" text-anchor="middle" fill="#000" transform="rotate(-90 373.0 287.0)">Platelet content (%)</text>
<line x1="415.40" y1="322.80" x2="415.40" y2="325.20" stroke="#000" stroke-width="1.0" stroke-linecap="butt"/>
<line x1="447.50" y1="322.80" x2="447.50" y2="325.20" stroke="#000" stroke-width="1.0" stroke-linecap="butt"/>
<line x1="480.00" y1="322.80" x2="480.00" y2="325.20" stroke="#000" stroke-width="1.0" stroke-linecap="butt"/>
<line x1="415.40" y1="239.30" x2="415.40" y2="246.40" stroke="#000" stroke-width="1.0" stroke-linecap="butt"/>
<line x1="412.00" y1="239.30" x2="418.80" y2="239.30" stroke="#000" stroke-width="1.0" stroke-linecap="butt"/>
<rect x="404.30" y="246.40" width="22.10" height="76.40" fill="#bbb" stroke="#000" stroke-width="1.1"/>
<line x1="407.06" y1="246.40" x2="407.06" y2="322.80" stroke="#000" stroke-width="1.1" stroke-linecap="butt"/>
<line x1="409.82" y1="246.40" x2="409.82" y2="322.80" stroke="#000" stroke-width="1.1" stroke-linecap="butt"/>
<line x1="412.59" y1="246.40" x2="412.59" y2="322.80" stroke="#000" stroke-width="1.1" stroke-linecap="butt"/>
<line x1="415.35" y1="246.40" x2="415.35" y2="322.80" stroke="#000" stroke-width="1.1" stroke-linecap="butt"/>
<line x1="418.11" y1="246.40" x2="418.11" y2="322.80" stroke="#000" stroke-width="1.1" stroke-linecap="butt"/>
<line x1="420.88" y1="246.40" x2="420.88" y2="322.80" stroke="#000" stroke-width="1.1" stroke-linecap="butt"/>
<line x1="423.64" y1="246.40" x2="423.64" y2="322.80" stroke="#000" stroke-width="1.1" stroke-linecap="butt"/>
<line x1="447.50" y1="304.90" x2="447.50" y2="309.20" stroke="#000" stroke-width="1.0" stroke-linecap="butt"/>
<line x1="444.60" y1="304.90" x2="450.40" y2="304.90" stroke="#000" stroke-width="1.0" stroke-linecap="butt"/>
<rect x="436.60" y="309.20" width="21.90" height="13.60" fill="#000" stroke="#000" stroke-width="1.2"/>
<rect x="469.20" y="316.90" width="21.60" height="5.90" fill="#fff" stroke="#000" stroke-width="1.2"/>
<path d="M447.50,298.60 V295.50 H480.60 V298.60" fill="none" stroke="#000" stroke-width="1.1" stroke-linejoin="round"/>
<text x="464.60" y="293.20" font-size="8.5" text-anchor="middle" fill="#000">n.s.</text>
<text x="401.30" y="334.70" font-size="8.5" text-anchor="end" fill="#000">α-PLA</text>
<text x="401.30" y="350.40" font-size="8.5" text-anchor="end" fill="#000">Splenectomy</text>
<text x="416.40" y="334.70" font-size="8" font-weight="bold" text-anchor="middle" fill="#000">-</text>
<text x="416.40" y="350.40" font-size="8" font-weight="bold" text-anchor="middle" fill="#000">-</text>
<text x="447.40" y="334.70" font-size="8" font-weight="bold" text-anchor="middle" fill="#000">+</text>
<text x="447.40" y="350.40" font-size="8" font-weight="bold" text-anchor="middle" fill="#000">-</text>
<text x="478.50" y="334.70" font-size="8" font-weight="bold" text-anchor="middle" fill="#000">+</text>
<text x="478.50" y="350.40" font-size="8" font-weight="bold" text-anchor="middle" fill="#000">+</text>
<line x1="126.10" y1="195.70" x2="126.10" y2="241.60" stroke="#888" stroke-width="1.0" stroke-linecap="butt"/>
<line x1="125.70" y1="241.20" x2="156.80" y2="241.20" stroke="#888" stroke-width="1.0" stroke-linecap="butt"/>
<line x1="124.10" y1="198.50" x2="126.10" y2="198.50" stroke="#888" stroke-width="0.9" stroke-linecap="butt"/>
<text x="124.30" y="200.70" font-size="6.3" font-weight="bold" text-anchor="end" fill="#000">100</text>
<line x1="124.10" y1="219.85" x2="126.10" y2="219.85" stroke="#888" stroke-width="0.9" stroke-linecap="butt"/>
<text x="124.30" y="222.05" font-size="6.3" font-weight="bold" text-anchor="end" fill="#000">50</text>
<line x1="124.10" y1="241.20" x2="126.10" y2="241.20" stroke="#888" stroke-width="0.9" stroke-linecap="butt"/>
<text x="124.30" y="242.60" font-size="6.3" font-weight="bold" text-anchor="end" fill="#000">0</text>
<text x="141.20" y="195.00" font-size="9" font-weight="bold" text-anchor="middle" fill="#000">5KO</text>
<text x="108.70" y="215.60" font-size="6.5" text-anchor="middle" fill="#222" transform="rotate(-90 108.7 215.6)">Platelet content (%)</text>
<rect x="126.30" y="238.80" width="14.50" height="2.40" fill="#999" stroke="#555" stroke-width="0.8"/>
<line x1="131.13" y1="238.80" x2="131.13" y2="241.20" stroke="#555" stroke-width="1.0" stroke-linecap="butt"/>
<line x1="135.97" y1="238.80" x2="135.97" y2="241.20" stroke="#555" stroke-width="1.0" stroke-linecap="butt"/>
<line x1="148.20" y1="233.40" x2="148.20" y2="235.30" stroke="#999" stroke-width="0.9" stroke-linecap="butt"/>
<line x1="146.40" y1="233.40" x2="150.00" y2="233.40" stroke="#999" stroke-width="0.9" stroke-linecap="butt"/>
<rect x="141.00" y="235.30" width="14.60" height="5.90" fill="#fff" stroke="#999" stroke-width="0.9"/>
<path d="M134.30,208.00 V205.40 H147.50 V208.00" fill="none" stroke="#000" stroke-width="1.0" stroke-linejoin="round"/>
<text x="140.90" y="203.00" font-size="6.2" text-anchor="middle" fill="#000">n.s.</text>
<text x="128.00" y="251.50" font-size="6.5" text-anchor="end" fill="#000">α-PLA</text>
<text x="128.00" y="263.80" font-size="6.5" text-anchor="end" fill="#000">α-Gr1</text>
<text x="133.60" y="251.50" font-size="6.5" font-weight="bold" text-anchor="middle" fill="#000">+</text>
<text x="133.60" y="263.80" font-size="6.5" font-weight="bold" text-anchor="middle" fill="#000">-</text>
<text x="149.80" y="251.50" font-size="6.5" font-weight="bold" text-anchor="middle" fill="#000">+</text>
<text x="149.80" y="263.80" font-size="6.5" font-weight="bold" text-anchor="middle" fill="#000">+</text>
<line x1="318.10" y1="195.70" x2="318.10" y2="242.00" stroke="#888" stroke-width="1.0" stroke-linecap="butt"/>
<line x1="317.70" y1="241.60" x2="349.00" y2="241.60" stroke="#888" stroke-width="1.0" stroke-linecap="butt"/>
<line x1="316.10" y1="203.40" x2="318.10" y2="203.40" stroke="#888" stroke-width="0.9" stroke-linecap="butt"/>
<text x="316.40" y="205.60" font-size="6.3" font-weight="bold" text-anchor="end" fill="#000">100</text>
<line x1="316.10" y1="222.50" x2="318.10" y2="222.50" stroke="#888" stroke-width="0.9" stroke-linecap="butt"/>
<text x="316.40" y="224.70" font-size="6.3" font-weight="bold" text-anchor="end" fill="#000">50</text>
<line x1="316.10" y1="241.60" x2="318.10" y2="241.60" stroke="#888" stroke-width="0.9" stroke-linecap="butt"/>
<text x="316.40" y="243.00" font-size="6.3" font-weight="bold" text-anchor="end" fill="#000">0</text>
<text x="333.80" y="195.00" font-size="9" font-weight="bold" text-anchor="middle" fill="#000">5KO</text>
<text x="301.80" y="214.50" font-size="6.5" text-anchor="middle" fill="#222" transform="rotate(-90 301.8 214.5)">Platelet content (%)</text>
<rect x="318.30" y="240.60" width="14.60" height="0.80" fill="#333" stroke="#333" stroke-width="0.6"/>
<line x1="340.30" y1="211.70" x2="340.30" y2="213.00" stroke="#999" stroke-width="0.9" stroke-linecap="butt"/>
<line x1="338.50" y1="211.70" x2="342.10" y2="211.70" stroke="#999" stroke-width="0.9" stroke-linecap="butt"/>
<rect x="333.40" y="213.00" width="13.90" height="28.40" fill="#fff" stroke="#999" stroke-width="0.9"/>
<path d="M325.80,209.20 V206.60 H338.50 V209.20" fill="none" stroke="#000" stroke-width="1.1" stroke-linejoin="round"/>
<circle cx="328.60" cy="203.40" r="1.2" fill="#000" stroke="#000" stroke-width="0.3"/>
<circle cx="332.10" cy="203.40" r="1.2" fill="#000" stroke="#000" stroke-width="0.3"/>
<circle cx="335.60" cy="203.40" r="1.2" fill="#000" stroke="#000" stroke-width="0.3"/>
<text x="316.90" y="251.50" font-size="6.5" text-anchor="end" fill="#000">α-PLA</text>
<text x="325.80" y="251.50" font-size="6.5" font-weight="bold" text-anchor="middle" fill="#000">+</text>
<text x="341.50" y="251.50" font-size="6.5" font-weight="bold" text-anchor="middle" fill="#000">+</text>
<text x="316.90" y="264.00" font-size="6.5" text-anchor="end" fill="#000">Lipo.</text>
<text x="325.20" y="264.00" font-size="6.5" text-anchor="middle" fill="#000">PBS</text>
<text x="341.20" y="264.00" font-size="6.5" text-anchor="middle" fill="#000">Cld2</text>
<line x1="487.00" y1="196.50" x2="487.00" y2="242.60" stroke="#888" stroke-width="1.0" stroke-linecap="butt"/>
<line x1="486.60" y1="242.20" x2="517.80" y2="242.20" stroke="#888" stroke-width="1.0" stroke-linecap="butt"/>
<line x1="485.00" y1="200.20" x2="487.00" y2="200.20" stroke="#888" stroke-width="0.9" stroke-linecap="butt"/>
<text x="484.60" y="202.40" font-size="6.3" font-weight="bold" text-anchor="end" fill="#000">100</text>
<line x1="485.00" y1="221.20" x2="487.00" y2="221.20" stroke="#888" stroke-width="0.9" stroke-linecap="butt"/>
<text x="484.60" y="223.40" font-size="6.3" font-weight="bold" text-anchor="end" fill="#000">50</text>
<line x1="485.00" y1="242.20" x2="487.00" y2="242.20" stroke="#888" stroke-width="0.9" stroke-linecap="butt"/>
<text x="484.60" y="243.60" font-size="6.3" font-weight="bold" text-anchor="end" fill="#000">0</text>
<text x="501.80" y="195.00" font-size="9" font-weight="bold" text-anchor="middle" fill="#000">5KO</text>
<text x="471.00" y="216.60" font-size="6.5" text-anchor="middle" fill="#222" transform="rotate(-90 471.0 216.6)">Platelet content (%)</text>
<line x1="494.40" y1="220.00" x2="494.40" y2="228.70" stroke="#aaa" stroke-width="0.9" stroke-linecap="butt"/>
<line x1="492.60" y1="220.00" x2="496.20" y2="220.00" stroke="#aaa" stroke-width="0.9" stroke-linecap="butt"/>
<rect x="487.20" y="228.70" width="14.50" height="13.50" fill="#858585" stroke="#666" stroke-width="0.9"/>
<line x1="509.20" y1="213.50" x2="509.20" y2="226.40" stroke="#aaa" stroke-width="0.9" stroke-linecap="butt"/>
<line x1="507.40" y1="213.50" x2="511.00" y2="213.50" stroke="#aaa" stroke-width="0.9" stroke-linecap="butt"/>
<rect x="502.20" y="226.40" width="13.90" height="15.80" fill="#fff" stroke="#999" stroke-width="0.9"/>
<path d="M494.60,208.00 V205.40 H508.50 V208.00" fill="none" stroke="#000" stroke-width="1.0" stroke-linejoin="round"/>
<text x="501.50" y="203.00" font-size="6.2" text-anchor="middle" fill="#000">n.s.</text>
<text x="488.20" y="251.50" font-size="6.5" text-anchor="end" fill="#000">α-PLA</text>
<text x="488.70" y="263.40" font-size="6.5" text-anchor="end" fill="#000">Splenectomy</text>
<text x="494.60" y="251.50" font-size="6.5" font-weight="bold" text-anchor="middle" fill="#000">+</text>
<text x="494.60" y="263.40" font-size="6.5" font-weight="bold" text-anchor="middle" fill="#000">-</text>
<text x="511.60" y="251.50" font-size="6.5" font-weight="bold" text-anchor="middle" fill="#000">+</text>
<text x="511.60" y="263.40" font-size="6.5" font-weight="bold" text-anchor="middle" fill="#000">+</text>
</svg>
</body></html>
